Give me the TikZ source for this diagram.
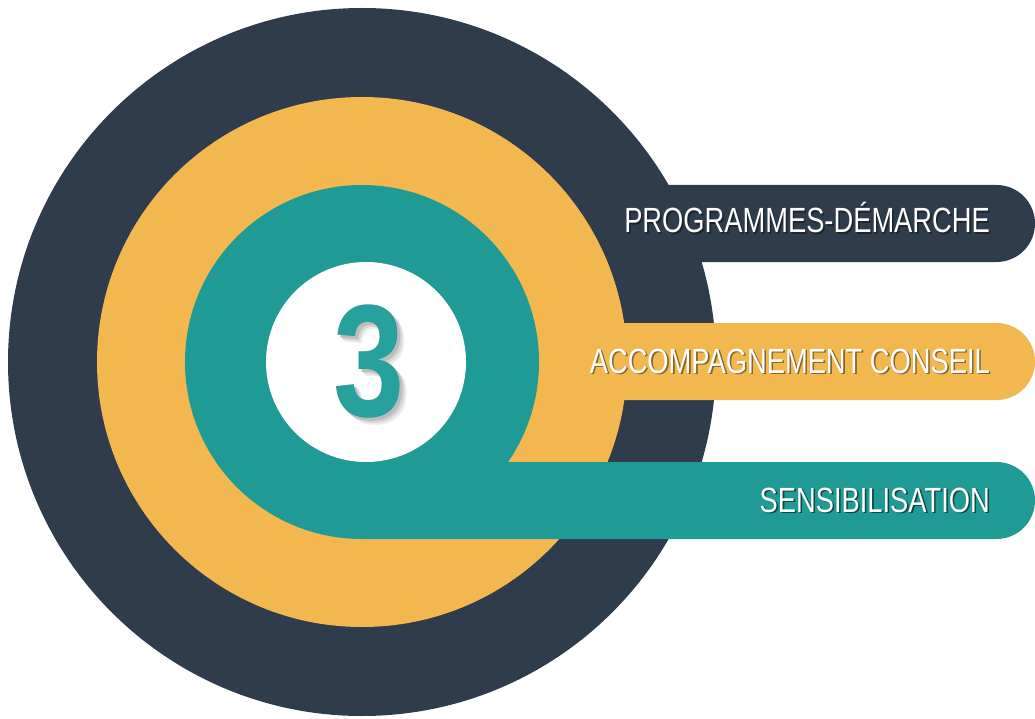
\documentclass[tikz,border=0pt]{standalone}
\usepackage{fontspec}
\setmainfont{Liberation Sans}
\definecolor{navy}{HTML}{2E3C4C}
\definecolor{gold}{HTML}{F2B74F}
\definecolor{teal}{HTML}{1F9A95}
\definecolor{tealnum}{HTML}{28A09B}
\newcommand{\shtext}[2]{\rlap{\raisebox{-1.6pt}{\hspace{1.6pt}\textcolor{#1}{\scalebox{0.78}[1]{#2}}}}\scalebox{0.78}[1]{#2}}
\newcommand{\bignum}{%
  \rlap{\raisebox{-7pt}{\hspace{7pt}\textcolor{black!8}{\scalebox{0.8}[1]{3}}}}%
  \rlap{\raisebox{-5pt}{\hspace{5pt}\textcolor{black!16}{\scalebox{0.8}[1]{3}}}}%
  \rlap{\raisebox{-3pt}{\hspace{3pt}\textcolor{black!26}{\scalebox{0.8}[1]{3}}}}%
  \scalebox{0.8}[1]{3}}
\tikzset{
  lbl/.style={anchor=base east, inner sep=0pt, text=white, font=\fontsize{35}{35}\selectfont},
  numstyle/.style={inner sep=0pt, text=tealnum, font=\fontsize{160}{160}\selectfont\bfseries}
}
\begin{document}
\begin{tikzpicture}[x=1pt,y=-1pt]
\useasboundingbox (0,0) rectangle (1035,719);
% dark ring + bar
\fill[navy] (362,362) circle[radius=354pt];
\fill[navy] (500,185) -- (996.5,185) arc[start angle=90,end angle=-90,radius=38.5pt] -- (500,262) -- cycle;
% yellow ring + bar
\fill[gold] (362,362) circle[radius=265pt];
\fill[gold] (400,323) -- (996.5,323) arc[start angle=90,end angle=-90,radius=38.5pt] -- (400,400) -- cycle;
% teal ring + bar
\fill[teal] (362,362) circle[radius=177pt];
\fill[teal] (362,462) -- (996.5,462) arc[start angle=90,end angle=-90,radius=38.5pt] -- (362,539) -- cycle;
% white disc
\fill[white] (366,362) circle[radius=100pt];
% number
\node[numstyle] (num) at (369,365) {\bignum};
% labels
\node[lbl] (t1) at (990,233) {\shtext{navy!60!black}{PROGRAMMES-DÉMARCHE}};
\node[lbl] (t2) at (990,373) {\shtext{gold!55!black}{ACCOMPAGNEMENT CONSEIL}};
\node[lbl] (t3) at (990,512) {\shtext{teal!45!black}{SENSIBILISATION}};
\end{tikzpicture}
\end{document}
